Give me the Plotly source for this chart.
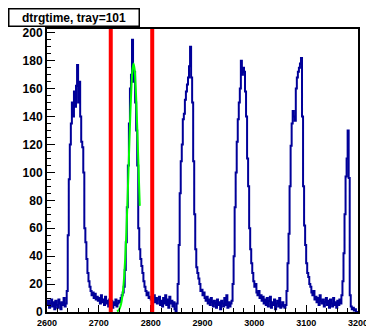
import numpy as np
import plotly.graph_objects as go

# ---------------- data ----------------
bin_low = 2600
bin_width = 2
counts = [
    5, 8, 3, 6, 9, 4, 7, 2, 8, 5,              # 2600
    3, 9, 6, 2, 7, 5, 10, 4, 6, 15,            # 2620
    55, 95, 120, 135, 150, 140, 158, 147, 162, 177,  # 2640
    150, 165, 140, 122, 118, 100, 60, 50, 38, 28,    # 2660
    22, 18, 15, 12, 14, 10, 13, 9, 11, 8,       # 2680
    10, 6, 12, 7, 9, 5, 11, 6, 8, 4,            # 2700
    9, 6, 8, 3, 7, 5, 9, 4, 6, 8,               # 2720
    7, 10, 12, 14, 18, 30, 50, 75, 105, 135,    # 2740
    160, 170, 195, 165, 172, 150, 130, 105, 60, 45,  # 2760
    38, 33, 28, 22, 18, 15, 12, 14, 10, 11,     # 2780
    9, 11, 8, 12, 7, 10, 6, 9, 11, 5,           # 2800
    8, 4, 10, 6, 12, 5, 9, 3, 11, 6,            # 2820
    8, 4, 7, 2, 0, 6, 20, 48, 85, 108,          # 2840
    120, 138, 142, 152, 158, 163, 168, 176, 190, 168,  # 2860
    150, 108, 70, 45, 32, 28, 24, 20, 15, 16,   # 2880
    12, 14, 10, 8, 11, 6, 9, 5, 10, 7,          # 2900
    4, 8, 6, 3, 9, 5, 7, 2, 8, 6,               # 2920
    4, 10, 5, 12, 3, 7, 4, 6, 8, 20,            # 2940
    40, 75, 100, 122, 138, 150, 160, 180, 170, 175,  # 2960
    172, 158, 140, 110, 90, 60, 45, 35, 28, 22,  # 2980
    18, 20, 14, 12, 15, 10, 12, 8, 11, 6,       # 3000
    9, 5, 10, 4, 8, 11, 3, 7, 5, 9,             # 3020
    2, 6, 8, 4, 10, 3, 5, 7, 4, 3,              # 3040
    5, 15, 35, 56, 90, 119, 135, 144, 140, 137,  # 3060
    160, 168, 172, 175, 178, 182, 140, 90, 62, 48,  # 3080
    35, 28, 25, 20, 18, 14, 12, 15, 9, 11,      # 3100
    7, 10, 5, 12, 8, 6, 9, 4, 7, 10,            # 3120
    5, 8, 3, 9, 6, 4, 10, 5, 7, 3,              # 3140
    8, 5, 9, 6, 12, 22, 42, 70, 97, 110,        # 3160
    130, 96, 12, 4, 2, 3, 1, 2, 0, 0,           # 3180
]

fit_x = [2735, 2737, 2739, 2741, 2743, 2745, 2747, 2749, 2751, 2753, 2755, 2757,
         2759, 2761, 2763, 2765, 2767, 2769, 2771, 2773, 2775, 2777, 2779]
fit_y = [0.4, 0.9, 1.7, 3.3, 5.9, 10.2, 16.7, 26.3, 39.2, 55.9, 76.0, 98.6,
         122.0, 143.9, 162.0, 173.9, 178.0, 173.9, 162.0, 143.9, 122.0, 98.6, 76.0]

cut_lines = [2723, 2803]

title_text = "dtrgtime, tray=101"
x_ticks = [2600, 2700, 2800, 2900, 3000, 3100, 3200]
y_ticks = [0, 20, 40, 60, 80, 100, 120, 140, 160, 180, 200]
x_range = [2600, 3200]
y_range = [0, 202.7]

# ---------------- figure ----------------
edges = bin_low + bin_width * np.arange(len(counts) + 1)
step_y = counts + [counts[-1]]

fig = go.Figure()
fig.add_trace(go.Scatter(
    x=edges, y=step_y, mode="lines",
    line=dict(shape="hv", color="#000099", width=2),
    hoverinfo="skip",
))
fig.add_trace(go.Scatter(
    x=fit_x, y=fit_y, mode="lines",
    line=dict(shape="spline", color="#00ff00", width=2),
    hoverinfo="skip",
))

for c in cut_lines:
    fig.add_shape(type="line", x0=c, x1=c, xref="x", y0=0, y1=1, yref="y domain",
                  line=dict(color="#ff0000", width=4), layer="above")

W, H = 366, 329
ml, mr, mt, mb = 47, 8, 29, 17
pw, ph = W - ml - mr, H - mt - mb

fig.add_annotation(
    text="<b>%s</b>" % title_text,
    xref="paper", yref="paper",
    x=(7.5 - ml) / pw, y=(ph + mt - 8.3) / ph,
    xanchor="left", yanchor="top",
    showarrow=False,
    font=dict(family="Liberation Sans, Arial, sans-serif", size=12, color="black"),
    bgcolor="white", bordercolor="black", borderwidth=1.5, borderpad=1,
    width=127, height=14, align="center",
)

axis_font = "Liberation Sans, Arial, sans-serif"
fig.update_layout(
    width=W, height=H,
    margin=dict(l=ml, r=mr, t=mt, b=mb, pad=0, autoexpand=False),
    paper_bgcolor="white", plot_bgcolor="white",
    showlegend=False,
    xaxis=dict(
        range=x_range, tickmode="array", tickvals=x_ticks,
        ticktext=[str(v) for v in x_ticks],
        ticks="inside", ticklen=7, tickwidth=1, tickcolor="black",
        minor=dict(ticks="inside", ticklen=4, tickmode="linear", tick0=2600, dtick=20,
                   tickcolor="black", tickwidth=1),
        showline=True, linecolor="black", linewidth=2, mirror=True,
        showgrid=False, zeroline=False, automargin=False,
        ticklabeloverflow="allow", ticklabelstandoff=1,
        tickfont=dict(family=axis_font, size=9, color="black", weight="bold"),
    ),
    yaxis=dict(
        range=y_range, tickmode="array", tickvals=y_ticks,
        ticktext=[str(v) for v in y_ticks],
        ticks="inside", ticklen=8, tickwidth=1, tickcolor="black",
        minor=dict(ticks="inside", ticklen=4, tickmode="linear", tick0=0, dtick=5,
                   tickcolor="black", tickwidth=1),
        showline=True, linecolor="black", linewidth=2, mirror=True,
        showgrid=False, zeroline=False, automargin=False,
        ticklabeloverflow="allow",
        tickfont=dict(family=axis_font, size=12, color="black", weight="bold"),
    ),
)

fig.write_html(
    "out.html",
    config={"displayModeBar": False, "staticPlot": True},
    post_script="document.body.style.margin='0';document.body.style.overflow='hidden';",
)
